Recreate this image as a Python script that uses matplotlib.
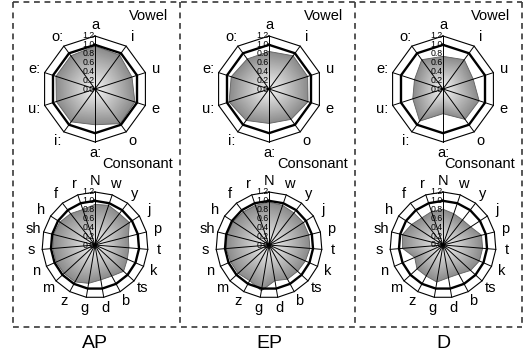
import matplotlib
matplotlib.use('Agg')
import matplotlib.pyplot as plt
import numpy as np
from matplotlib import transforms

plt.rcParams['font.family'] = ['Liberation Sans', 'DejaVu Sans']

W, H = 525, 358

groups = ['AP', 'EP', 'D']
vowels = ['a', 'i', 'u', 'e', 'o', 'a:', 'i:', 'u:', 'e:', 'o:']
consonants = ['N', 'w', 'y', 'j', 'p', 't', 'k', 'ts', 'b', 'd', 'g',
              'z', 'm', 'n', 's', 'sh', 'h', 'f', 'r']

ap_vowel = [0.97, 0.95, 0.88, 0.95, 0.97, 0.81, 0.92, 0.92, 0.93, 0.93]
ep_vowel = [0.85, 0.93, 0.92, 0.93, 0.85, 0.78, 0.88, 0.95, 0.90, 0.84]
d_vowel = [0.74, 0.82, 0.72, 0.86, 0.85, 0.56, 0.90, 0.72, 0.68, 0.82]

ap_cons = [0.92, 0.95, 0.90, 0.93, 0.78, 0.77, 0.80, 0.88, 0.80, 0.80,
           0.88, 0.95, 0.95, 0.96, 0.96, 0.97, 0.95, 0.90, 0.85]
ep_cons = [0.97, 0.95, 0.92, 0.93, 0.93, 0.93, 0.90, 0.88, 0.88, 0.82,
           1.05, 0.92, 0.95, 0.95, 0.97, 0.98, 0.97, 0.95, 0.95]
d_cons = [0.81, 0.75, 0.72, 0.75, 0.90, 0.90, 0.90, 0.85, 0.75, 0.75,
          0.85, 0.80, 0.80, 0.70, 0.92, 0.95, 0.85, 0.78, 0.80]

tick_values = [0.0, 0.2, 0.4, 0.6, 0.8, 1.0, 1.2]
tick_labels = ['0.0', '0.2', '0.4', '0.6', '0.8', '1.0', '1.2']

vowel_data = [ap_vowel, ep_vowel, d_vowel]
cons_data = [ap_cons, ep_cons, d_cons]

# layout in pixels
col_x = [95, 269, 443]
vowel_y = 89
cons_y = 245
radius_px = 53
col_right = [180, 355, 522]


def radar(fig, cx, cy, labels, values):
    size = 2 * radius_px
    ax = fig.add_axes([(cx - radius_px) / W, 1 - (cy + radius_px) / H,
                       size / W, size / H], projection='polar')
    ax.set_theta_zero_location('N')
    ax.set_theta_direction(-1)
    ax.set_ylim(0, 1.2)
    ax.axis('off')

    n = len(labels)
    theta = np.linspace(0, 2 * np.pi, n, endpoint=False)
    closed = np.append(theta, theta[0])
    vals = np.append(values, values[0])

    # radial gray gradient
    steps = 40
    for k in range(steps, 0, -1):
        s = k / steps
        g = 0.97 - 0.42 * s
        ax.fill(closed, vals * s, color=(g, g, g), lw=0, zorder=1)
    ax.plot(closed, vals, color='#606060', lw=0.6, zorder=2)

    for t in theta:
        ax.plot([t, t], [0, 1.2], color='black', lw=0.7, zorder=3, clip_on=False)
    ax.plot(closed, np.full(n + 1, 1.0), color='black', lw=1.7, zorder=4, clip_on=False)
    ax.plot(closed, np.full(n + 1, 1.2), color='black', lw=0.8, zorder=4, clip_on=False)

    for t, lab in zip(theta, labels):
        ax.text(t, 1.45, lab, ha='center', va='center', fontsize=10.5)

    trans = transforms.offset_copy(ax.transData, fig=fig, x=-0.5, y=0, units='dots')
    for v, lab in zip(tick_values, tick_labels):
        ax.text(0, v, lab, transform=trans, ha='right', va='center',
                fontsize=6.3, zorder=5)
    return ax


fig = plt.figure(figsize=(W / 100, H / 100), dpi=100)

bg = fig.add_axes([0, 0, 1, 1])
bg.set_xlim(0, W)
bg.set_ylim(H, 0)
bg.axis('off')

dash = dict(color='#3a3a3a', lw=1.2, linestyle=(0, (3.5, 2.8)))
left, top, bottom = 13, 2, 327
bg.plot([left, col_right[-1]], [top, top], **dash)
bg.plot([left, col_right[-1]], [bottom, bottom], **dash)
bg.plot([left, left], [top, bottom], **dash)
for xr in col_right:
    bg.plot([xr, xr], [top, bottom], **dash)

for i, g in enumerate(groups):
    radar(fig, col_x[i], vowel_y, vowels, vowel_data[i])
    radar(fig, col_x[i], cons_y, consonants, cons_data[i])
    bg.text(col_right[i] - 12, 16, 'Vowel', ha='right', va='center', fontsize=10.5)
    bg.text(col_right[i] - 7, 164, 'Consonant', ha='right', va='center', fontsize=10.5)
    bg.text(col_x[i], 343, g, ha='center', va='center', fontsize=14)

fig.savefig('out.png', dpi=100)
